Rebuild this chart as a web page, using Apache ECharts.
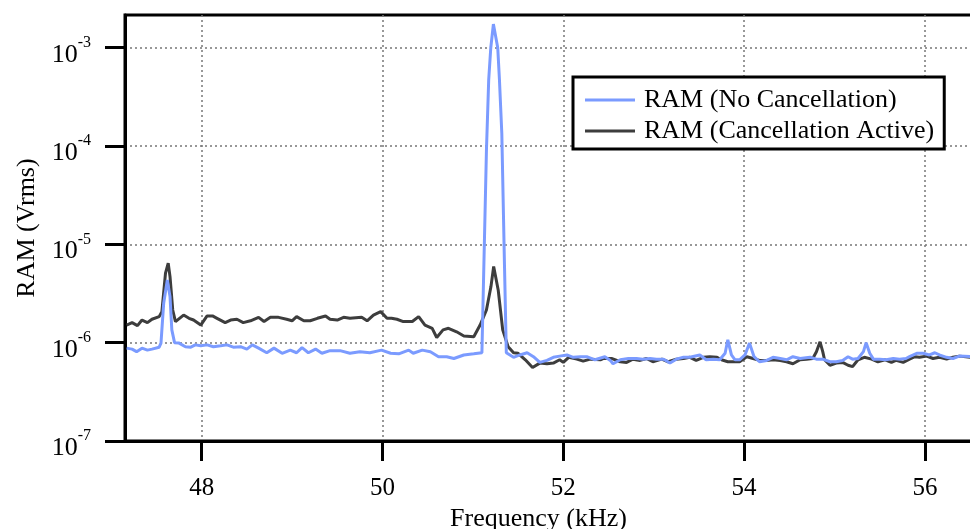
<!DOCTYPE html>
<html>
<head>
<meta charset="utf-8">
<script src="https://cdn.jsdelivr.net/npm/echarts@6/dist/echarts.min.js"></script>
<style>
html,body{margin:0;padding:0;background:#fff;}
#chart{width:970px;height:529px;}
</style>
</head>
<body>
<div id="chart"></div>
<script>
// Frequency (kHz) and RAM (Vrms)
const blueName = 'RAM (No Cancellation)';
const blackName = 'RAM (Cancellation Active)';

const blueFreq = [47.17,47.23,47.28,47.34,47.40,47.45,47.53,47.55,47.58,47.62,47.65,47.67,47.70,47.75,47.82,47.88,47.93,47.99,
48.06,48.13,48.21,48.28,48.35,48.43,48.50,48.56,48.63,48.72,48.80,48.89,48.98,49.05,49.11,49.18,49.26,49.33,49.42,49.53,49.64,
49.75,49.86,49.99,50.09,50.18,50.29,50.34,50.44,50.53,50.62,50.71,50.79,50.90,51.01,51.10,51.12,51.15,51.175,51.198,51.227,
51.275,51.294,51.32,51.35,51.37,51.45,51.52,51.60,51.67,51.74,51.82,51.89,51.96,52.04,52.11,52.19,52.26,52.35,52.46,52.52,
52.55,52.63,52.72,52.81,52.88,52.96,53.03,53.11,53.18,53.25,53.33,53.40,53.51,53.58,53.66,53.73,53.79,53.82,53.86,53.90,
53.95,54.01,54.06,54.11,54.17,54.25,54.32,54.40,54.47,54.54,54.62,54.73,54.80,54.87,54.95,55.02,55.09,55.15,55.20,55.26,
55.32,55.35,55.39,55.43,55.50,55.57,55.65,55.72,55.79,55.83,55.91,55.98,56.05,56.11,56.16,56.24,56.31,56.38,56.52];
const blueVal = [0.88e-6,0.86e-6,0.81e-6,0.88e-6,0.84e-6,0.86e-6,0.90e-6,0.99e-6,2.52e-6,4.35e-6,2.94e-6,1.35e-6,1.00e-6,0.99e-6,
0.91e-6,0.90e-6,0.95e-6,0.93e-6,0.95e-6,0.91e-6,0.93e-6,0.95e-6,0.90e-6,0.91e-6,0.86e-6,0.95e-6,0.88e-6,0.79e-6,0.88e-6,
0.78e-6,0.84e-6,0.79e-6,0.89e-6,0.79e-6,0.86e-6,0.78e-6,0.83e-6,0.83e-6,0.78e-6,0.81e-6,0.79e-6,0.84e-6,0.78e-6,0.77e-6,
0.84e-6,0.78e-6,0.84e-6,0.81e-6,0.72e-6,0.72e-6,0.69e-6,0.75e-6,0.77e-6,0.79e-6,0.80e-6,9.0e-5,4.7e-4,1.0e-3,1.74e-3,
1.0e-3,4.7e-4,1.35e-4,5.9e-6,0.79e-6,0.71e-6,0.75e-6,0.79e-6,0.72e-6,0.63e-6,0.66e-6,0.71e-6,0.73e-6,0.75e-6,0.71e-6,
0.72e-6,0.72e-6,0.67e-6,0.72e-6,0.66e-6,0.61e-6,0.67e-6,0.69e-6,0.69e-6,0.68e-6,0.69e-6,0.68e-6,0.68e-6,0.62e-6,0.68e-6,
0.71e-6,0.71e-6,0.75e-6,0.67e-6,0.68e-6,0.67e-6,0.78e-6,1.07e-6,0.75e-6,0.67e-6,0.67e-6,0.75e-6,0.99e-6,0.72e-6,0.64e-6,
0.66e-6,0.71e-6,0.69e-6,0.67e-6,0.72e-6,0.69e-6,0.71e-6,0.68e-6,0.68e-6,0.64e-6,0.64e-6,0.66e-6,0.72e-6,0.68e-6,0.69e-6,
0.81e-6,1.00e-6,0.78e-6,0.68e-6,0.68e-6,0.67e-6,0.69e-6,0.68e-6,0.69e-6,0.72e-6,0.78e-6,0.78e-6,0.75e-6,0.79e-6,0.75e-6,
0.71e-6,0.69e-6,0.73e-6,0.72e-6];

const blackFreq = [47.17,47.23,47.29,47.34,47.40,47.45,47.53,47.56,47.60,47.63,47.65,47.68,47.71,47.80,47.86,47.91,47.99,
48.06,48.12,48.17,48.26,48.32,48.39,48.46,48.54,48.63,48.69,48.76,48.85,48.94,49.00,49.05,49.13,49.20,49.28,49.37,49.42,
49.50,49.57,49.64,49.77,49.83,49.90,49.98,50.05,50.10,50.16,50.23,50.33,50.40,50.47,50.55,50.60,50.67,50.73,50.82,50.90,
51.01,51.08,51.15,51.20,51.23,51.28,51.33,51.39,51.45,51.50,51.58,51.66,51.74,51.82,51.89,51.96,52.00,52.06,52.15,52.22,
52.30,52.41,52.44,52.54,52.63,52.70,52.77,52.85,52.92,52.99,53.09,53.16,53.25,53.33,53.40,53.47,53.55,53.62,53.70,53.75,
53.82,53.88,53.95,54.03,54.10,54.17,54.25,54.32,54.40,54.47,54.54,54.62,54.69,54.76,54.80,54.84,54.87,54.89,54.95,55.02,
55.09,55.15,55.20,55.26,55.33,55.41,55.48,55.56,55.63,55.68,55.76,55.83,55.89,55.94,56.02,56.09,56.16,56.24,56.31,56.38,56.52];
const blackVal = [1.51e-6,1.60e-6,1.49e-6,1.70e-6,1.60e-6,1.73e-6,1.84e-6,2.07e-6,5.1e-6,6.43e-6,4.7e-6,2.15e-6,1.64e-6,1.91e-6,
1.77e-6,1.70e-6,1.51e-6,1.87e-6,1.87e-6,1.77e-6,1.60e-6,1.70e-6,1.73e-6,1.60e-6,1.67e-6,1.81e-6,1.64e-6,1.81e-6,1.81e-6,
1.73e-6,1.67e-6,1.84e-6,1.67e-6,1.67e-6,1.77e-6,1.87e-6,1.73e-6,1.70e-6,1.81e-6,1.77e-6,1.81e-6,1.67e-6,1.91e-6,2.07e-6,
1.77e-6,1.77e-6,1.73e-6,1.64e-6,1.64e-6,1.84e-6,1.51e-6,1.40e-6,1.13e-6,1.35e-6,1.40e-6,1.29e-6,1.17e-6,1.15e-6,1.51e-6,
2.15e-6,3.72e-6,5.95e-6,3.44e-6,1.35e-6,0.91e-6,0.79e-6,0.78e-6,0.67e-6,0.56e-6,0.62e-6,0.61e-6,0.62e-6,0.67e-6,0.63e-6,
0.71e-6,0.68e-6,0.65e-6,0.68e-6,0.67e-6,0.69e-6,0.69e-6,0.64e-6,0.63e-6,0.68e-6,0.66e-6,0.69e-6,0.64e-6,0.68e-6,0.64e-6,
0.68e-6,0.69e-6,0.71e-6,0.66e-6,0.71e-6,0.72e-6,0.71e-6,0.67e-6,0.64e-6,0.64e-6,0.64e-6,0.72e-6,0.69e-6,0.66e-6,0.66e-6,
0.67e-6,0.66e-6,0.64e-6,0.61e-6,0.67e-6,0.68e-6,0.69e-6,0.81e-6,1.02e-6,0.81e-6,0.67e-6,0.59e-6,0.62e-6,0.63e-6,0.59e-6,
0.57e-6,0.67e-6,0.71e-6,0.68e-6,0.64e-6,0.67e-6,0.63e-6,0.66e-6,0.63e-6,0.68e-6,0.72e-6,0.71e-6,0.73e-6,0.69e-6,0.71e-6,
0.68e-6,0.71e-6,0.73e-6,0.71e-6];

const xTicks = [48, 50, 52, 54, 56];
const yTicks = [1e-7, 1e-6, 1e-5, 1e-4, 1e-3];
const xRange = [47.152, 56.521];
const yRange = [1e-7, 2.152e-3];

const blueData = blueFreq.map((f, i) => [f, blueVal[i]]);
const blackData = blackFreq.map((f, i) => [f, blackVal[i]]);

const FONT = '"Liberation Serif", "Times New Roman", serif';
const chart = echarts.init(document.getElementById('chart'), null, {renderer: 'canvas'});

chart.setOption({
  backgroundColor: '#fff',
  animation: false,
  grid: {left: 125, top: 15, right: -2, bottom: 88, containLabel: false, outerBoundsMode: 'none',
    show: true, borderColor: '#000', borderWidth: 3, backgroundColor: 'transparent'},
  legend: {
    data: [blueName, blackName],
    orient: 'vertical',
    left: 573, top: 77,
    padding: [10, 10, 5, 12],
    icon: 'rect',
    itemWidth: 50, itemHeight: 3, itemGap: 5,
    borderColor: '#000', borderWidth: 3, backgroundColor: '#fff',
    textStyle: {fontFamily: FONT, fontSize: 26, lineHeight: 26, color: '#000', padding: [0, 0, 0, 4]}
  },
  xAxis: {
    type: 'value', min: xRange[0], max: xRange[1],
    name: 'Frequency (kHz)', nameLocation: 'middle', nameGap: 64,
    nameTextStyle: {fontFamily: FONT, fontSize: 26, color: '#000', padding: [0, 20, 0, 0]},
    axisLine: {show: true, lineStyle: {color: '#000', width: 3}},
    axisTick: {show: true, inside: false, length: 20, customValues: xTicks, lineStyle: {color: '#000', width: 3}},
    axisLabel: {customValues: xTicks, margin: 35, fontFamily: FONT, fontSize: 25, color: '#000'},
    splitLine: {show: true, lineStyle: {color: '#777', width: 1.5, type: [2, 3]}}
  },
  yAxis: {
    type: 'log', logBase: 10, min: yRange[0], max: yRange[1],
    name: 'RAM (Vrms)', nameLocation: 'middle', nameGap: 85,
    nameTextStyle: {fontFamily: FONT, fontSize: 26, color: '#000'},
    axisLine: {show: true, lineStyle: {color: '#000', width: 3}},
    axisTick: {show: true, inside: false, length: 20, customValues: yTicks, lineStyle: {color: '#000', width: 3}},
    minorTick: {show: false},
    axisLabel: {
      customValues: yTicks,
      margin: 34,
      formatter: function (v) {
        const l = Math.log10(v);
        const e = Math.round(l);
        if (Math.abs(l - e) > 1e-6) return '';
        return '{b|10}{s|' + e + '}';
      },
      rich: {
        b: {fontFamily: FONT, fontSize: 26, color: '#000', lineHeight: 26, padding: [14, 0, 0, 0]},
        s: {fontFamily: FONT, fontSize: 16, color: '#000', lineHeight: 16, verticalAlign: 'top', padding: [0, 0, 0, 0]}
      }
    },
    splitLine: {show: true, lineStyle: {color: '#777', width: 1.5, type: [2, 3]}}
  },
  series: [
    {name: blackName, type: 'line', data: blackData, symbol: 'none', lineStyle: {color: '#3d3d3d', width: 3}, itemStyle: {color: '#3d3d3d'}},
    {name: blueName, type: 'line', data: blueData, symbol: 'none', lineStyle: {color: '#7b9bff', width: 3}, itemStyle: {color: '#7b9bff'}}
  ]
});
</script>
</body>
</html>
